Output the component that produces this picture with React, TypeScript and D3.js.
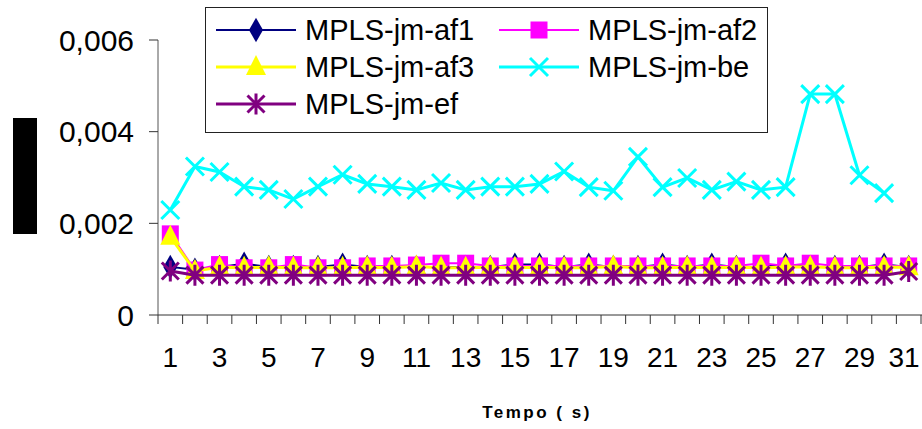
import * as d3 from "d3";

const categories = d3.range(1, 32).map(String);
const xLabels = categories.filter((_, i) => i % 2 === 0);
const yTicks = [0, 0.002, 0.004, 0.006];
const yTickLabels = ["0", "0,002", "0,004", "0,006"];

const af1 = [
  0.00105, 0.00099, 0.00105, 0.00112, 0.00105, 0.00105, 0.00105, 0.0011, 0.00105, 0.00105,
  0.00105, 0.00105, 0.00105, 0.00105, 0.0011, 0.0011, 0.00105, 0.0011, 0.00105, 0.00105,
  0.0011, 0.00105, 0.0011, 0.00105, 0.00105, 0.0011, 0.00105, 0.00105, 0.00105, 0.0011,
  0.00105
];
const af2 = [
  0.00177, 0.00098, 0.0011, 0.00103, 0.00103, 0.0011, 0.00103, 0.00103, 0.00107, 0.00107,
  0.00109, 0.00113, 0.00113, 0.00107, 0.00107, 0.00107, 0.00107, 0.00107, 0.00107, 0.00107,
  0.00107, 0.00107, 0.00107, 0.00107, 0.00113, 0.00107, 0.00113, 0.00107, 0.00107, 0.00107,
  0.00107
];
const af3 = [
  0.00171, 0.00096, 0.00104, 0.00103, 0.00104, 0.00103, 0.00103, 0.00103, 0.00104, 0.00103,
  0.00106, 0.00103, 0.00103, 0.00104, 0.00103, 0.00104, 0.00103, 0.00103, 0.00106, 0.00103,
  0.00103, 0.00104, 0.00103, 0.00104, 0.00103, 0.00104, 0.00105, 0.00103, 0.00103, 0.00104,
  0.00104
];
const be: (number | null)[] = [
  0.00229, 0.00324, 0.00312, 0.0028, 0.00273, 0.00253, 0.0028, 0.00306, 0.00286, 0.0028,
  0.00273, 0.00288, 0.00273, 0.0028, 0.0028, 0.00286, 0.00313, 0.00279, 0.00271, 0.00345,
  0.00279, 0.00299, 0.00273, 0.00291, 0.00273, 0.00279, 0.00482, 0.00482, 0.00305, 0.00266,
  null
];
const ef = [
  0.00096, 0.00087, 0.00087, 0.00087, 0.00087, 0.00087, 0.00087, 0.00087, 0.00087, 0.00087,
  0.00087, 0.00087, 0.00087, 0.00087, 0.00087, 0.00087, 0.00087, 0.00087, 0.00087, 0.00087,
  0.00087, 0.00087, 0.00087, 0.00087, 0.00087, 0.00087, 0.00087, 0.00087, 0.00087, 0.00087,
  0.00095
];

type Marker = "diamond" | "square" | "triangle" | "x" | "star";
interface Series {
  name: string;
  values: (number | null)[];
  color: string;
  lineWidth: number;
  marker: Marker;
}

const series: Series[] = [
  { name: "MPLS-jm-af1", values: af1, color: "#000080", lineWidth: 2, marker: "diamond" },
  { name: "MPLS-jm-af2", values: af2, color: "#FF00FF", lineWidth: 2, marker: "square" },
  { name: "MPLS-jm-af3", values: af3, color: "#FFFF00", lineWidth: 3, marker: "triangle" },
  { name: "MPLS-jm-be", values: be, color: "#00FFFF", lineWidth: 3, marker: "x" },
  { name: "MPLS-jm-ef", values: ef, color: "#800080", lineWidth: 3, marker: "star" }
];

const width = 922;
const height = 429;
const plotLeft = 158;
const plotRight = 921;
const plotTop = 40;
const plotBottom = 315;
const font = "'Liberation Sans', Arial, sans-serif";

function MarkerShape({ type, color, cx, cy }: { type: Marker; color: string; cx: number; cy: number }) {
  if (type === "diamond") {
    const d = d3.symbol(d3.symbolDiamond, 170)();
    return <path d={d || undefined} transform={`translate(${cx},${cy})`} fill={color} />;
  }
  if (type === "square") {
    return <rect x={cx - 8.5} y={cy - 8.5} width={17} height={17} fill={color} />;
  }
  if (type === "triangle") {
    return (
      <path
        d={`M${cx},${cy - 12}L${cx + 10},${cy + 8}L${cx - 10},${cy + 8}Z`}
        fill={color}
      />
    );
  }
  if (type === "x") {
    const r = 9;
    return (
      <path
        d={`M${cx - r},${cy - r}L${cx + r},${cy + r}M${cx - r},${cy + r}L${cx + r},${cy - r}`}
        stroke={color}
        strokeWidth={3}
        fill="none"
      />
    );
  }
  const r = 8.5;
  return (
    <path
      d={`M${cx - r},${cy - r}L${cx + r},${cy + r}M${cx - r},${cy + r}L${cx + r},${cy - r}M${cx},${cy - r - 2}L${cx},${cy + r + 2}`}
      stroke={color}
      strokeWidth={3}
      fill="none"
    />
  );
}

export default function App() {
  const x = d3.scaleBand<string>().domain(categories).range([plotLeft, plotRight]);
  const y = d3.scaleLinear().domain([0, 0.006]).range([plotBottom, plotTop]);
  const cx = (c: string) => (x(c) ?? 0) + x.bandwidth() / 2;

  const line = d3
    .line<[string, number | null]>()
    .defined(d => d[1] != null)
    .x(d => cx(d[0]))
    .y(d => y(d[1] as number));

  const legendRows = [
    { s: series[0], lx: 216, ly: 30 },
    { s: series[1], lx: 499, ly: 30 },
    { s: series[2], lx: 216, ly: 67 },
    { s: series[3], lx: 499, ly: 67 },
    { s: series[4], lx: 216, ly: 104 }
  ];

  return (
    <svg width={width} height={height} style={{ position: "absolute", left: 0, top: 0 }}>
      <rect width={width} height={height} fill="#fff" />

      {/* stray y title block */}
      <rect x={13} y={118} width={24} height={116} fill="#000" />

      {/* y axis */}
      <line x1={plotLeft} x2={plotLeft} y1={plotTop} y2={plotBottom} stroke="#555" strokeWidth={1} />
      {yTicks.map((t, i) => (
        <g key={t}>
          <line x1={plotLeft - 9} x2={plotLeft} y1={y(t)} y2={y(t)} stroke="#333" />
          <text
            x={134}
            y={y(t)}
            textAnchor="end"
            dominantBaseline="central"
            fontFamily={font}
            fontSize={30}
            fill="#000"
          >
            {yTickLabels[i]}
          </text>
        </g>
      ))}

      {/* x axis */}
      <line x1={plotLeft} x2={width} y1={plotBottom} y2={plotBottom} stroke="#333" />
      {categories.map(c => (
        <line key={c} x1={x(c)} x2={x(c)} y1={plotBottom} y2={plotBottom + 9} stroke="#333" />
      ))}
      <line x1={plotRight} x2={plotRight} y1={plotBottom} y2={plotBottom + 9} stroke="#333" />
      {xLabels.map(c => (
        <text key={c} x={Math.min(cx(c), 904)} y={367} textAnchor="middle" fontFamily={font} fontSize={28} fill="#000">
          {c}
        </text>
      ))}
      <text
        x={537}
        y={418}
        textAnchor="middle"
        fontFamily={font}
        fontSize={17}
        fontWeight="bold"
        letterSpacing={2.5}
        fill="#000"
      >
        Tempo ( s)
      </text>

      {/* series */}
      {series.map(s => {
        const pts: [string, number | null][] = categories.map((c, i) => [c, s.values[i]]);
        return (
          <g key={s.name}>
            <path d={line(pts) || undefined} fill="none" stroke={s.color} strokeWidth={s.lineWidth} />
            {pts
              .filter(p => p[1] != null)
              .map(p => (
                <MarkerShape key={p[0]} type={s.marker} color={s.color} cx={cx(p[0])} cy={y(p[1] as number)} />
              ))}
          </g>
        );
      })}

      {/* legend */}
      <rect x={205.5} y={7.5} width={562} height={125} fill="#fff" stroke="#222" strokeWidth={1} />
      {legendRows.map(({ s, lx, ly }) => (
        <g key={s.name}>
          <line x1={lx} x2={lx + 80} y1={ly} y2={ly} stroke={s.color} strokeWidth={s.lineWidth} />
          <MarkerShape type={s.marker} color={s.color} cx={lx + 40} cy={ly} />
          <text
            x={lx + 89}
            y={ly}
            dominantBaseline="central"
            fontFamily={font}
            fontSize={29}
            fill="#000"
          >
            {s.name}
          </text>
        </g>
      ))}
    </svg>
  );
}
